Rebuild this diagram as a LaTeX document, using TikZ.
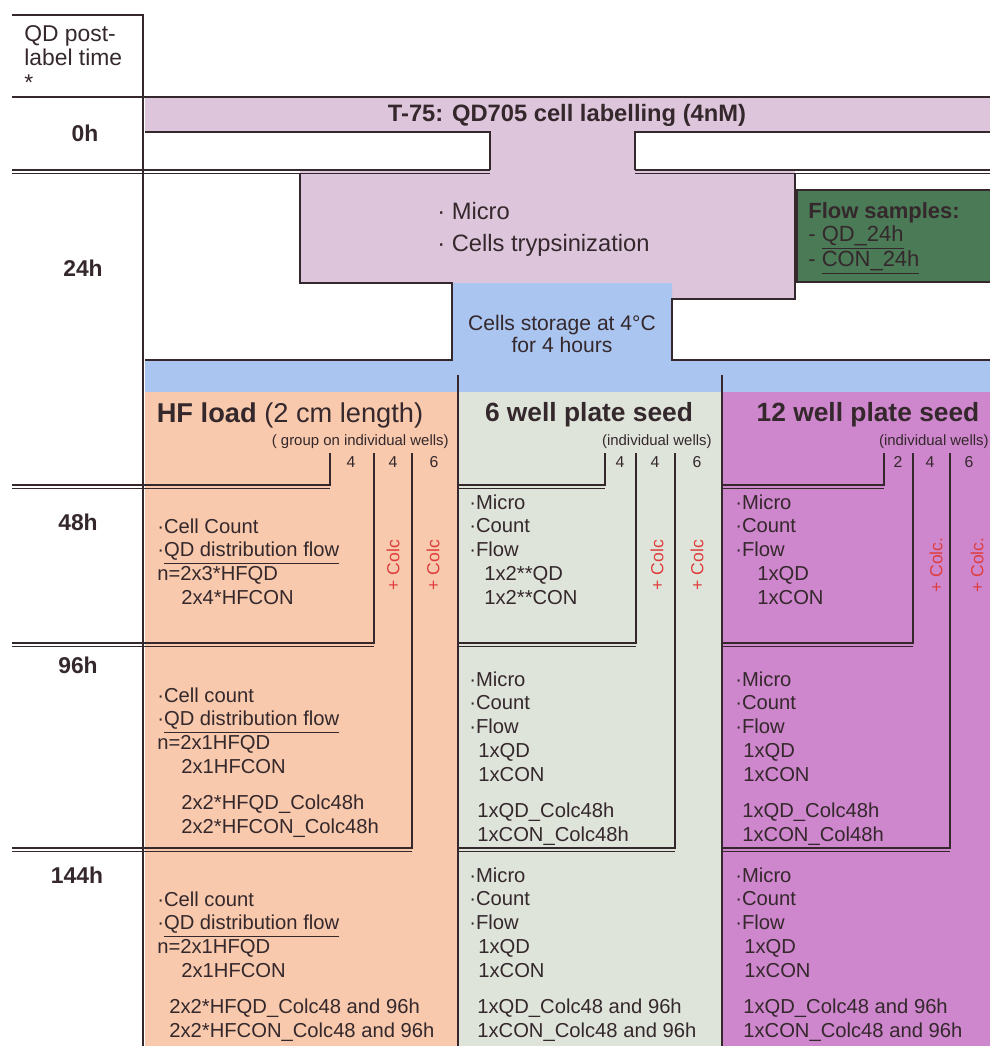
\documentclass[tikz,border=0pt]{standalone}
\usepackage{fontspec}
\setmainfont{Liberation Sans}
\usepackage{tikz}
\usetikzlibrary{positioning}

\definecolor{ink}{RGB}{52,40,44}
\definecolor{lilac}{RGB}{221,197,219}
\definecolor{iceblue}{RGB}{170,197,240}
\definecolor{flowgreen}{RGB}{74,122,86}
\definecolor{peach}{RGB}{248,201,172}
\definecolor{sage}{RGB}{222,228,218}
\definecolor{orchid}{RGB}{206,134,205}
\definecolor{colcred}{RGB}{222,62,62}

% one step of the well ladder: double rule at #1 from #2 to #3, rising to #4
\newcommand{\wellstep}[4]{%
  \draw[rule] (#2,#1) -- (#3,#1) -- (#3,#4);
  \draw[rule] (#2,#1+3.5) -- (#3,#1+3.5);}

\begin{document}
\begin{tikzpicture}[
    x=0.02cm, y=-0.02cm,
    rule/.style={draw=ink, line width=0.9pt},
    hour/.style={font=\fontsize{13}{15}\selectfont\bfseries, text=ink, inner sep=0pt},
    body/.style={font=\fontsize{11.5}{13.6}\selectfont, align=left, anchor=north west, inner sep=0pt, text=ink},
    head/.style={font=\fontsize{15}{17}\selectfont\bfseries, text=ink, inner sep=0pt},
    wells/.style={font=\fontsize{8.5}{10}\selectfont, anchor=east, text=ink, inner sep=0pt},
    count/.style={font=\fontsize{9}{10}\selectfont, text=ink, inner sep=0pt},
    colc/.style={font=\fontsize{10}{12}\selectfont, text=colcred, rotate=90, inner sep=0pt}
]
\useasboundingbox (0,0) rectangle (990,1046);

% background areas
\fill[lilac] (145,97) -- (1000,97) -- (1000,132) -- (635,132) -- (635,170) -- (795,170)
  -- (795,299) -- (672,299) -- (672,283) -- (300,283) -- (300,170) -- (490,170)
  -- (490,132) -- (145,132) -- cycle;
\fill[iceblue] (452,283) -- (672,283) -- (672,360) -- (1000,360) -- (1000,392)
  -- (145,392) -- (145,360) -- (452,360) -- cycle;
\fill[peach] (145,392) rectangle (458,1060);
\fill[sage] (458,392) rectangle (722,1060);
\fill[orchid] (722,392) rectangle (1000,1060);
\draw[rule, fill=flowgreen] (797,190) rectangle (1000,282);

% frame and rules
\draw[rule] (12,15) -- (143,15) -- (143,1060);
\draw[rule] (12,97) -- (1000,97);
\draw[rule] (145,132) -- (490,132) -- (490,170);
\draw[rule] (1000,132) -- (635,132) -- (635,170);
\draw[rule] (12,170) -- (490,170);
\draw[rule] (12,173.5) -- (490,173.5);
\draw[rule] (635,170) -- (1000,170);
\draw[rule] (635,173.5) -- (1000,173.5);
\draw[rule] (300,173.5) -- (300,283) -- (452,283) -- (452,360) -- (145,360);
\draw[rule] (795,173.5) -- (795,299) -- (672,299) -- (672,360) -- (1000,360);
\draw[rule] (458,375) -- (458,1060);
\draw[rule] (722,375) -- (722,1060);
\foreach \y/\xl/\xr in {485/12/330, 643/12/374, 848/12/412,
                        485/458/605, 643/458/636, 848/458/675,
                        485/722/884, 643/722/913, 848/722/950}
  \wellstep{\y}{\xl}{\xr}{453};

% time axis
\node[body, font=\fontsize{13}{14}\selectfont] (posttime) at (24,25) {QD post-\\label time\\*};
\node[hour] (h0) at (85,133) {0h};
\node[hour] (h24) at (83,268) {24h};
\node[hour] (h48) at (78,522) {48h};
\node[hour] (h96) at (78,665) {96h};
\node[hour] (h144) at (77,875) {144h};

% labelling and harvest
\node[head, font=\fontsize{13.5}{15}\selectfont\bfseries] (labelling) at (567,115) {T-75: QD705 cell labelling (4nM)};
\node[body, font=\fontsize{13.5}{18}\selectfont] (micro) at (437,202) {· Micro\\· Cells trypsinization};
\node[body, font=\fontsize{12.5}{13}\selectfont] (flow) at (808,202)
  {\textbf{Flow samples:}\\- \underline{QD\_24h}\\- \underline{CON\_24h}};
\node[font=\fontsize{12}{13}\selectfont, align=center, text=ink, inner sep=0pt] (storage) at (562,334)
  {Cells storage at 4°C\\for 4 hours};

% column heads
\node[head, font=\fontsize{15.5}{17}\selectfont\bfseries] (hf) at (290,415) {HF load {\mdseries (2 cm length)}};
\node[head] (six) at (589,415) {6 well plate seed};
\node[head] (twelve) at (868,415) {12 well plate seed};
\node[wells] (hfwells) at (449,442) {( group on individual wells)};
\node[wells] (sixwells) at (712,442) {(individual wells)};
\node[wells] (twelvewells) at (989,442) {(individual wells)};
\foreach \x/\n [count=\i] in {351/4, 393/4, 434/6, 620/4, 655/4, 697/6, 898/2, 930/4, 969/6}
  \node[count] (n\i) at (\x,462) {\n};
\foreach \x/\t [count=\i] in {393/+ Colc, 433/+ Colc, 657/+ Colc, 697/+ Colc, 936/+ Colc., 977/+ Colc.}
  \node[colc] (colc\i) at (\x,565) {\t};

% 48h
\node[body] (hf48) at (157,518) {·Cell Count\\·\underline{QD distribution flow}\\n=2x3*HFQD\\\hspace*{0.48cm}2x4*HFCON};
\node[body] (six48) at (469,494) {·Micro\\·Count\\·Flow\\\hspace*{0.3cm}1x2**QD\\\hspace*{0.3cm}1x2**CON};
\node[body] (twelve48) at (735,494) {·Micro\\·Count\\·Flow\\\hspace*{0.44cm}1xQD\\\hspace*{0.44cm}1xCON};

% 96h
\node[body] (hf96) at (157,687) {·Cell count\\·\underline{QD distribution flow}\\n=2x1HFQD\\\hspace*{0.48cm}2x1HFCON\\[0.24cm]
  \hspace*{0.48cm}2x2*HFQD\_Colc48h\\\hspace*{0.48cm}2x2*HFCON\_Colc48h};
\node[body] (six96) at (469,671) {·Micro\\·Count\\·Flow\\\hspace*{0.18cm}1xQD\\\hspace*{0.18cm}1xCON\\[0.24cm]
  \hspace*{0.16cm}1xQD\_Colc48h\\\hspace*{0.16cm}1xCON\_Colc48h};
\node[body] (twelve96) at (735,671) {·Micro\\·Count\\·Flow\\\hspace*{0.16cm}1xQD\\\hspace*{0.16cm}1xCON\\[0.24cm]
  \hspace*{0.14cm}1xQD\_Colc48h\\\hspace*{0.14cm}1xCON\_Col48h};

% 144h
\node[body] (hf144) at (157,891) {·Cell count\\·\underline{QD distribution flow}\\n=2x1HFQD\\\hspace*{0.48cm}2x1HFCON\\[0.24cm]
  \hspace*{0.24cm}2x2*HFQD\_Colc48 and 96h\\\hspace*{0.24cm}2x2*HFCON\_Colc48 and 96h};
\node[body] (six144) at (469,867) {·Micro\\·Count\\·Flow\\\hspace*{0.18cm}1xQD\\\hspace*{0.18cm}1xCON\\[0.24cm]
  \hspace*{0.16cm}1xQD\_Colc48 and 96h\\\hspace*{0.16cm}1xCON\_Colc48 and 96h};
\node[body] (twelve144) at (735,867) {·Micro\\·Count\\·Flow\\\hspace*{0.18cm}1xQD\\\hspace*{0.18cm}1xCON\\[0.24cm]
  \hspace*{0.16cm}1xQD\_Colc48 and 96h\\\hspace*{0.16cm}1xCON\_Colc48 and 96h};
\end{tikzpicture}
\end{document}
